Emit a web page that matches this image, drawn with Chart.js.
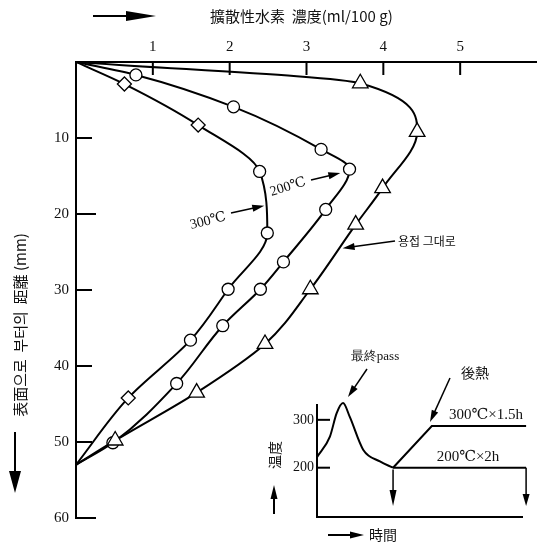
<!DOCTYPE html>
<html>
<head>
<meta charset="utf-8">
<script src="https://cdn.jsdelivr.net/npm/chart.js@4.4.0/dist/chart.umd.min.js"></script>
<style>
html, body { margin: 0; padding: 0; background: #fff; }
#wrap { position: relative; width: 537px; height: 545px; }
#mainChart { position: absolute; left: 0; top: 0; }
#insetChart { position: absolute; left: 250px; top: 340px; }
</style>
</head>
<body>
<div id="wrap">
  <canvas id="mainChart" width="537" height="545"></canvas>
  <canvas id="insetChart" width="287" height="205"></canvas>
</div>
<script>
// main chart: diffusible hydrogen vs depth
const xTicks = [1, 2, 3, 4, 5];
const yTicks = [10, 20, 30, 40, 50, 60];

// as welded (triangles)
const weldConc  = [0, 3.70, 4.44, 3.99, 3.64, 3.05, 2.46, 1.57, 0.51, 0];
const weldDepth = [0, 2.8, 9.2, 16.6, 21.4, 29.9, 37.1, 43.5, 49.8, 53];

// post heat 200C (circles)
const h200Conc  = [0, 0.78, 2.05, 3.19, 3.56, 3.25, 2.70, 2.40, 1.91, 1.31, 0.48, 0];
const h200Depth = [0, 1.7, 5.9, 11.5, 14.1, 19.4, 26.3, 29.9, 34.7, 42.3, 50.1, 53];

// post heat 300C (diamonds + circles)
const h300Conc  = [0, 0.63, 1.59, 2.39, 2.49, 1.98, 1.49, 0.68, 0];
const h300Depth = [0, 2.9, 8.3, 14.4, 22.5, 29.9, 36.6, 44.2, 53];
const h300Marks = ['none', 'rectRot', 'rectRot', 'circle', 'circle', 'circle', 'circle', 'rectRot', 'none'];

// inset: temperature history
const insetTempTicks = [200, 300];
const passTime = [0, 0.63, 0.96, 1.27, 1.6, 2.26, 3.07, 3.71];
const passTemp = [222, 265, 314, 335, 306, 237, 213, 200];
const hold300Time = [3.71, 5.6, 10.2, 10.2];
const hold300Temp = [200, 287, 287, 200];
const hold200Time = [3.71, 10.2];
const hold200Temp = [200, 200];

const SERIF = '"Liberation Serif", "DejaVu Serif", serif';
const KR = '"Noto Sans CJK KR", "Noto Sans CJK JP", sans-serif';

function toPoints(xs, ys) {
    return xs.map((x, i) => ({ x: x, y: ys[i] }));
}

function markerSizes(styles, r) {
    return styles.map(s => {
        if (s === 'none') return 0;
        if (s === 'rectRot') return r + 1;
        if (s === 'triangle') return r + 3;
        return r;
    });
}

function arrow(ctx, x1, y1, x2, y2, len, half, lw) {
    const a = Math.atan2(y2 - y1, x2 - x1);
    ctx.save();
    ctx.strokeStyle = '#000';
    ctx.fillStyle = '#000';
    ctx.lineWidth = lw || 1.5;
    ctx.beginPath();
    ctx.moveTo(x1, y1);
    ctx.lineTo(x2 - Math.cos(a) * len * 0.7, y2 - Math.sin(a) * len * 0.7);
    ctx.stroke();
    ctx.beginPath();
    ctx.moveTo(x2, y2);
    ctx.lineTo(x2 - Math.cos(a) * len - Math.sin(a) * half, y2 - Math.sin(a) * len + Math.cos(a) * half);
    ctx.lineTo(x2 - Math.cos(a) * len + Math.sin(a) * half, y2 - Math.sin(a) * len - Math.cos(a) * half);
    ctx.closePath();
    ctx.fill();
    ctx.restore();
}

function rotText(ctx, txt, x, y, ang, font) {
    ctx.save();
    ctx.translate(x, y);
    ctx.rotate(ang);
    ctx.font = font;
    ctx.textAlign = 'center';
    ctx.textBaseline = 'middle';
    ctx.fillStyle = '#111';
    ctx.fillText(txt, 0, 0);
    ctx.restore();
}

const weldStyles = weldConc.map((v, i) => (i === 0 || i === weldConc.length - 1) ? 'none' : 'triangle');
const h200Styles = h200Conc.map((v, i) => (i === 0 || i === h200Conc.length - 1) ? 'none' : 'circle');

function lineSet(data, styles, r) {
    return {
        data: data,
        borderColor: '#000',
        borderWidth: 2,
        cubicInterpolationMode: 'monotone',
        fill: false,
        pointStyle: styles.map(s => s === 'none' ? 'circle' : s),
        pointRadius: markerSizes(styles, r),
        pointBackgroundColor: '#fff',
        pointBorderColor: '#000',
        pointBorderWidth: 1.3,
        pointHoverRadius: 0
    };
}

const mainDecor = {
    id: 'mainDecor',
    afterDraw(chart) {
        const ctx = chart.ctx;
        const xs = chart.scales.x, ys = chart.scales.y;
        const area = chart.chartArea;
        ctx.save();
        ctx.strokeStyle = '#000';
        ctx.lineWidth = 2;
        ctx.fillStyle = '#111';
        ctx.font = '15px ' + SERIF;
        ctx.textAlign = 'center';
        ctx.textBaseline = 'middle';
        xTicks.forEach(v => {
            const px = xs.getPixelForValue(v);
            ctx.beginPath();
            ctx.moveTo(px, area.top);
            ctx.lineTo(px, area.top + 13);
            ctx.stroke();
            ctx.fillText(String(v), px, area.top - 15);
        });
        ctx.textAlign = 'right';
        yTicks.forEach(v => {
            const py = ys.getPixelForValue(v);
            ctx.beginPath();
            ctx.moveTo(area.left, py);
            ctx.lineTo(area.left + (v === 20 || v === 60 ? 20 : 16), py);
            ctx.stroke();
            ctx.fillText(String(v), area.left - 7, py);
        });
        ctx.restore();

        // axis titles
        ctx.save();
        ctx.fillStyle = '#111';
        ctx.font = '15px ' + KR;
        ctx.textAlign = 'left';
        ctx.textBaseline = 'middle';
        ctx.fillText('擴散性水素  濃度(ml/100 g)', 210, 16);
        ctx.restore();
        arrow(ctx, 93, 16, 156, 16, 30, 5, 2);

        rotText(ctx, '表面으로  부터의  距離 (mm)', 20, 325, -Math.PI / 2, '15px ' + KR);
        arrow(ctx, 15, 432, 15, 493, 22, 6, 2);

        // curve labels
        rotText(ctx, '300℃', 208, 221, -0.25, '14px ' + SERIF);
        arrow(ctx, 231, 213, xs.getPixelForValue(2.45), ys.getPixelForValue(18.9), 12, 3.5, 1.5);
        rotText(ctx, '200℃', 288, 187, -0.3, '14px ' + SERIF);
        arrow(ctx, 311, 180, xs.getPixelForValue(3.44), ys.getPixelForValue(14.6), 12, 3.5, 1.5);
        ctx.save();
        ctx.fillStyle = '#111';
        ctx.font = '12px ' + KR;
        ctx.textAlign = 'left';
        ctx.textBaseline = 'middle';
        ctx.fillText('용접 그대로', 398, 241);
        ctx.restore();
        arrow(ctx, 395, 241, xs.getPixelForValue(3.47), ys.getPixelForValue(24.5), 12, 3.5, 1.5);
    }
};

new Chart(document.getElementById('mainChart').getContext('2d'), {
    type: 'line',
    data: {
        datasets: [
            lineSet(toPoints(weldConc, weldDepth), weldStyles, 6),
            lineSet(toPoints(h200Conc, h200Depth), h200Styles, 6),
            lineSet(toPoints(h300Conc, h300Depth), h300Marks, 6)
        ]
    },
    options: {
        indexAxis: 'y',
        responsive: false,
        animation: false,
        events: [],
        layout: { padding: { left: 76, top: 62, right: 0, bottom: 27 } },
        plugins: { legend: { display: false }, tooltip: { enabled: false } },
        scales: {
            x: {
                type: 'linear', position: 'top', min: 0, max: 6,
                grid: { display: false, drawTicks: false },
                border: { display: true, color: '#000', width: 2 },
                ticks: { display: false }
            },
            y: {
                type: 'linear', reverse: true, min: 0, max: 60,
                grid: { display: false, drawTicks: false },
                border: { display: true, color: '#000', width: 2 },
                ticks: { display: false }
            }
        }
    },
    plugins: [mainDecor]
});

const insetDecor = {
    id: 'insetDecor',
    afterDraw(chart) {
        const ctx = chart.ctx;
        const xs = chart.scales.x, ys = chart.scales.y;
        const area = chart.chartArea;
        ctx.save();
        ctx.strokeStyle = '#000';
        ctx.lineWidth = 2;
        ctx.fillStyle = '#111';
        ctx.font = '14px ' + SERIF;
        ctx.textAlign = 'right';
        ctx.textBaseline = 'middle';
        insetTempTicks.forEach(v => {
            const py = ys.getPixelForValue(v);
            ctx.beginPath();
            ctx.moveTo(area.left, py);
            ctx.lineTo(area.left + 13, py);
            ctx.stroke();
            ctx.fillText(String(v), area.left - 3, py);
        });
        ctx.restore();

        const endX = xs.getPixelForValue(hold200Time[hold200Time.length - 1]);
        const startX = xs.getPixelForValue(hold200Time[0]);
        arrow(ctx, endX, ys.getPixelForValue(200), endX, ys.getPixelForValue(120), 12, 3.5, 1.5);
        arrow(ctx, startX, ys.getPixelForValue(196), startX, ys.getPixelForValue(120), 16, 3.5, 1.5);

        ctx.save();
        ctx.fillStyle = '#111';
        ctx.textBaseline = 'middle';
        ctx.textAlign = 'center';
        ctx.font = '13px ' + SERIF;
        ctx.fillText('最終pass', 125, 17);
        ctx.font = '14px ' + KR;
        ctx.fillText('後熱', 225, 33);
        ctx.font = '15px ' + SERIF;
        ctx.fillText('300℃×1.5h', 236, 75);
        ctx.fillText('200℃×2h', 218, 117);
        ctx.font = '14px ' + KR;
        ctx.fillText('時間', 133, 195);
        ctx.restore();
        arrow(ctx, 117, 29, 98, 57, 12, 3.5, 1.5);
        arrow(ctx, 200, 38, 180, 82, 12, 3.5, 1.5);
        rotText(ctx, '温度', 25, 115, -Math.PI / 2, '14px ' + KR);
        arrow(ctx, 24, 174, 24, 145, 14, 3.5, 2);
        arrow(ctx, 78, 195, 114, 195, 14, 3.5, 2);
    }
};

function insetSet(data, smooth) {
    return {
        data: data,
        borderColor: '#000',
        borderWidth: 2,
        cubicInterpolationMode: smooth ? 'monotone' : 'default',
        tension: 0,
        pointRadius: 0,
        fill: false,
        clip: false
    };
}

new Chart(document.getElementById('insetChart').getContext('2d'), {
    type: 'line',
    data: {
        datasets: [
            insetSet(toPoints(passTime, passTemp), true),
            insetSet(toPoints(hold300Time, hold300Temp), false),
            insetSet(toPoints(hold200Time, hold200Temp), false)
        ]
    },
    options: {
        responsive: false,
        animation: false,
        events: [],
        layout: { padding: { left: 67, top: 65, right: 15, bottom: 28 } },
        plugins: { legend: { display: false }, tooltip: { enabled: false } },
        scales: {
            x: {
                type: 'linear', min: 0, max: 10,
                grid: { display: false, drawTicks: false },
                border: { display: true, color: '#000', width: 2 },
                ticks: { display: false }
            },
            y: {
                type: 'linear', min: 97, max: 331,
                grid: { display: false, drawTicks: false },
                border: { display: true, color: '#000', width: 2 },
                ticks: { display: false }
            }
        }
    },
    plugins: [insetDecor]
});
</script>
</body>
</html>
